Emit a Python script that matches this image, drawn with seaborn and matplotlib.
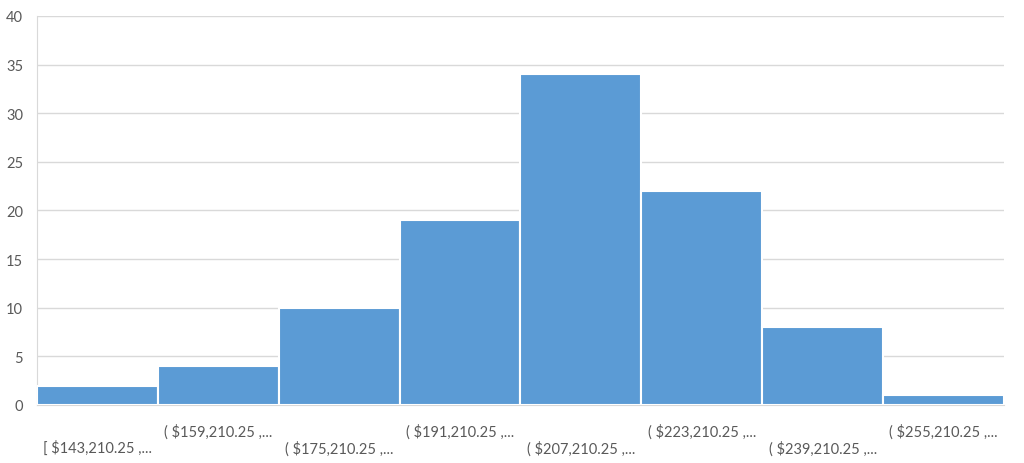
import numpy as np
import pandas as pd
import matplotlib
matplotlib.use("Agg")
import matplotlib.pyplot as plt
import seaborn as sns

# bins (Excel histogram labels, truncated as in the chart) and counts
bin_labels = ["[ $143,210.25 ,...", "( $159,210.25 ,...", "( $175,210.25 ,...",
              "( $191,210.25 ,...", "( $207,210.25 ,...", "( $223,210.25 ,...",
              "( $239,210.25 ,...", "( $255,210.25 ,..."]
counts = [2, 4, 10, 19, 34, 22, 8, 1]

df = pd.DataFrame({"bin": bin_labels, "count": counts})

sns.set_style("white")
plt.rcParams['font.family'] = ['Lato', 'DejaVu Sans']

fig = plt.figure(figsize=(10.24, 4.64), dpi=100)
ax = fig.add_axes([0.0361, 0.125, 0.9444, 0.8384])

sns.barplot(data=df, x="bin", y="count", color="#5B9BD5", saturation=1,
            width=1.0, edgecolor="white", linewidth=1.5, ax=ax, zorder=3)

ax.set_ylim(0, 40)
ax.set_yticks(np.arange(0, 41, 5))
ax.set_xlim(-0.5, len(bin_labels) - 0.5)
ax.grid(axis="y", color="#D9D9D9", linewidth=1, zorder=0)
ax.set_axisbelow(True)

# staggered labels like Excel: first one on the lower row
labels = [("\n" + b) if i % 2 == 0 else b for i, b in enumerate(bin_labels)]
ax.set_xticks(range(len(bin_labels)))
ax.set_xticklabels(labels, fontsize=10.5, color="#595959", va="top")
ax.tick_params(axis="x", length=0, pad=13)
ax.tick_params(axis="y", length=0, pad=10, labelsize=10.5, labelcolor="#595959")
for lbl in ax.get_xticklabels():
    lbl.set_linespacing(1.25)

ax.set_xlabel("")
ax.set_ylabel("")
for side in ["top", "right"]:
    ax.spines[side].set_visible(False)
ax.spines["left"].set_color("#D9D9D9")
ax.spines["bottom"].set_color("#D9D9D9")

fig.savefig("out.png", dpi=100)
